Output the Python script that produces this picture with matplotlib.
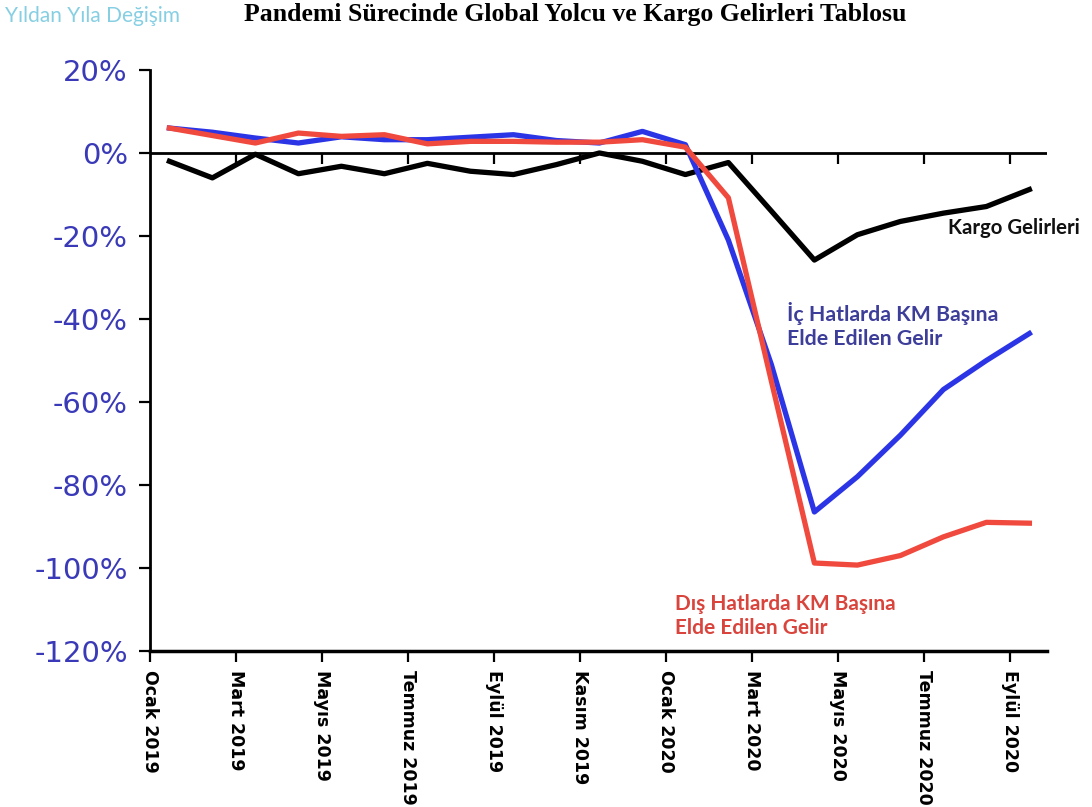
import numpy as np
import matplotlib.pyplot as plt

# month labels (every second month gets a tick label)
tick_labels = ['Ocak 2019', 'Mart 2019', 'Mayıs 2019', 'Temmuz 2019', 'Eylül 2019',
               'Kasım 2019', 'Ocak 2020', 'Mart 2020', 'Mayıs 2020', 'Temmuz 2020', 'Eylül 2020']

# Jan 2019 .. Sep 2020, year-over-year change in %
ic_hatlar = [6.0, 5.0, 3.6, 2.4, 3.9, 3.2, 3.2, 3.8, 4.4, 3.0, 2.4, 5.2,
             2.0, -21.0, -51.0, -86.5, -78.0, -68.0, -57.0, -50.0, -43.5]
dis_hatlar = [6.0, 4.2, 2.4, 4.8, 4.0, 4.4, 2.2, 2.8, 2.8, 2.6, 2.6, 3.2,
              1.4, -10.8, -55.0, -98.8, -99.3, -97.0, -92.5, -89.0, -89.2]
kargo = [-2.0, -6.0, -0.3, -5.0, -3.2, -5.0, -2.5, -4.4, -5.2, -2.8, 0.0, -2.0,
         -5.2, -2.3, -14.0, -25.8, -19.7, -16.5, -14.5, -12.9, -8.8]

months = np.arange(len(kargo)) + 0.45
tick_pos = np.arange(len(tick_labels)) * 2

fig = plt.figure(figsize=(10.92, 8.07), dpi=100)
ax = fig.add_axes([0.1374, 0.1933, 0.8214, 0.72])

ax.plot(months, kargo, color='black', lw=3.8, zorder=3)
ax.plot(months, ic_hatlar, color='#2b35e6', lw=3.8, zorder=4)
ax.plot(months, dis_hatlar, color='#f04a3e', lw=3.8, zorder=5)

# zero line with small ticks hanging down
ax.axhline(0, color='black', lw=2, zorder=2)
ax.plot(tick_pos[1:], np.zeros(len(tick_pos) - 1), ls='none', marker=3, ms=8,
        mew=1.6, color='black', zorder=2)

ax.set_xlim(0, 20.86)
ax.set_ylim(-120, 20)
ax.set_yticks(np.arange(-120, 21, 20))
ax.set_yticklabels([f'{v}%' for v in range(-120, 21, 20)])
ax.set_xticks(tick_pos)
ax.set_xticklabels(tick_labels, rotation=270, fontsize=12.5, fontweight='bold',
                   va='top', ha='center')

for s in ['top', 'right']:
    ax.spines[s].set_visible(False)
ax.spines['left'].set_linewidth(2)
ax.spines['bottom'].set_linewidth(2.5)
ax.tick_params(axis='y', length=8, width=1.6, labelsize=21, labelcolor='#3a3ab8', pad=8)
ax.tick_params(axis='x', length=8, width=1.6, pad=6)

ax.text(18.56, -18.1, 'Kargo Gelirleri', fontsize=14.7, fontweight='bold',
        family=['Lato', 'DejaVu Sans'], color='#111111', va='center', ha='left')
ax.text(14.81, -41.5, 'İç Hatlarda KM Başına\nElde Edilen Gelir', fontsize=15.3,
        fontweight='bold', family=['Lato', 'DejaVu Sans'], color='#3d3d9a',
        va='center', ha='left', linespacing=1.25)
ax.text(12.2, -111.5, 'Dış Hatlarda KM Başına\nElde Edilen Gelir', fontsize=15,
        fontweight='bold', family=['Lato', 'DejaVu Sans'], color='#d9443c',
        va='center', ha='left', linespacing=1.25)

fig.text(0.527, 0.982, 'Pandemi Sürecinde Global Yolcu ve Kargo Gelirleri Tablosu',
         family='Liberation Serif', fontweight='bold', fontsize=18.5, ha='center', va='center')
fig.text(0.005, 0.98, 'Yıldan Yıla Değişim', family=['Lato', 'DejaVu Sans'],
         fontsize=15, color='#86cfe3', ha='left', va='center')

fig.savefig('out.png', dpi=100)
